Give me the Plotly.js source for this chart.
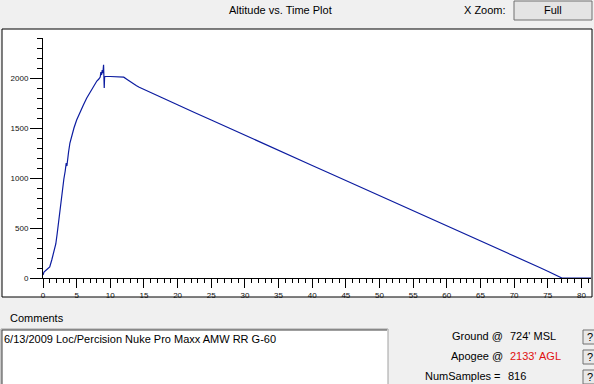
<!DOCTYPE html>
<html>
<head>
<meta charset="utf-8">
<script src="https://cdn.plot.ly/plotly-3.0.1.min.js"></script>
<style>
  html, body { margin: 0; padding: 0; background: #f0f0f0; }
  #chart { width: 594px; height: 384px; }
</style>
</head>
<body>
<div id="chart"></div>
<script>
// ---- data ----
const timeSec = [
  0.0, 0.15, 0.4, 0.7, 1.0, 1.3, 1.6, 1.9, 2.1, 2.3, 2.5, 2.7, 2.9, 3.1, 3.3, 3.45, 3.55, 3.65, 3.8, 4.0,
  4.3, 4.6, 5.0, 5.5, 6.0, 6.5, 7.0, 7.5, 8.0, 8.3, 8.5, 8.6, 8.7, 8.8, 8.9, 9.0, 9.05, 9.1, 9.15, 9.3,
  10.0, 11.0, 11.6, 12.0, 12.5, 13.0, 13.9, 14.3, 15.0, 17.5, 20.0, 22.5, 25.0, 27.5, 30.0, 32.5, 35.0, 37.5,
  40.0, 42.5, 45.0, 47.5, 50.0, 52.5, 55.0, 57.5, 60.0, 62.5, 65.0, 67.5, 70.0, 72.5, 73.8, 75.0, 77.1, 81.43
];
const altitudeFt = [
  30, 60, 75, 95, 110, 180, 250, 340, 440, 560, 680, 800, 900, 990, 1070, 1150, 1120, 1160, 1260, 1350,
  1430, 1500, 1580, 1660, 1730, 1800, 1860, 1920, 1970, 1990, 2010, 2060, 2030, 2080, 2050, 2133, 2060, 1900, 2010, 2015,
  2015, 2010, 2003, 2008, 1985, 1960, 1923, 1907, 1885, 1810, 1732, 1655, 1580, 1503, 1427, 1350, 1273, 1200,
  1125, 1050, 975, 900, 826, 750, 676, 600, 525, 450, 376, 300, 225, 146, 105, 67, 0, 0
];
const xTickStep = 5;
const yTickStep = 500;
const titleText = "Altitude vs. Time Plot";
const commentText = "6/13/2009 Loc/Percision Nuke Pro Maxx AMW RR G-60";
const groundText = "724' MSL";
const apogeeText = "2133' AGL";
const samplesText = "816";

// ---- layout helpers (pixel -> paper) ----
const L = 43, R = 591, T = 38, B = 278;
const px = x => (x - L) / (R - L);
const py = y => (B - y) / (B - T);
const FONT = "Liberation Sans, Arial, sans-serif";

function rect(x0, y0, x1, y1, fill, line, lw) {
  return { type: 'rect', xref: 'paper', yref: 'paper', layer: 'below',
    x0: px(x0), x1: px(x1), y0: py(y1), y1: py(y0),
    fillcolor: fill, line: { color: line, width: lw === undefined ? 1 : lw } };
}
function lineShape(x0, y0, x1, y1, color) {
  return { type: 'line', xref: 'paper', yref: 'paper', layer: 'below',
    x0: px(x0), x1: px(x1), y0: py(y0), y1: py(y1), line: { color: color, width: 1 } };
}
function label(text, x, y, anchor, color, size) {
  return { text: text, xref: 'paper', yref: 'paper', x: px(x), y: py(y),
    xanchor: anchor, yanchor: 'middle', showarrow: false, borderpad: 0,
    font: { family: FONT, size: size || 11, color: color || '#000' } };
}

const trace = {
  x: timeSec, y: altitudeFt, type: 'scatter', mode: 'lines',
  line: { color: '#0c1ca0', width: 1.2 }, cliponaxis: false, hoverinfo: 'skip'
};

const layout = {
  width: 594, height: 384,
  margin: { l: L, r: 594 - R, t: T, b: 384 - B, pad: 0 },
  paper_bgcolor: '#f0f0f0', plot_bgcolor: 'rgba(0,0,0,0)',
  showlegend: false,
  xaxis: {
    range: [0, (R - L) / 6.73], tickmode: 'linear', tick0: 0, dtick: xTickStep,
    ticks: 'outside', ticklen: 9, tickcolor: '#000', tickwidth: 1,
    showline: true, linecolor: '#000', linewidth: 1, showgrid: false, zeroline: false,
    tickfont: { family: FONT, size: 8, color: '#111' },
    minor: { dtick: 1, tick0: 0, ticks: 'outside', ticklen: 4, tickcolor: '#000', showgrid: false },
    fixedrange: true
  },
  yaxis: {
    range: [0, 2400], tickmode: 'linear', tick0: 0, dtick: yTickStep,
    ticks: 'outside', ticklen: 12, tickcolor: '#000', tickwidth: 1,
    showline: true, linecolor: '#000', linewidth: 1, showgrid: false, zeroline: false,
    tickfont: { family: FONT, size: 8, color: '#111' },
    minor: { dtick: 100, tick0: 0, ticks: 'outside', ticklen: 5, tickcolor: '#000', showgrid: false },
    fixedrange: true
  },
  shapes: [
    rect(2, 29, 592, 297, '#ffffff', '#000000', 1),
    rect(514, 1, 592, 20, '#e4e4e4', '#707070', 1),
    rect(1, 329, 388, 392, '#ffffff', '#a0a0a0', 1),
    lineShape(2, 330, 387, 330, '#404040'),
    lineShape(2, 330, 2, 392, '#404040'),
    rect(583, 330, 600, 344, '#e8e8e8', '#707070', 1),
    rect(583, 350, 600, 364, '#e8e8e8', '#707070', 1),
    rect(583, 370, 600, 384, '#e8e8e8', '#707070', 1)
  ],
  annotations: [
    label(titleText, 280, 10, 'center'),
    label('X Zoom:', 463, 10, 'left'),
    label('Full', 553, 10, 'center'),
    label('Comments', 9, 318, 'left'),
    label(commentText, 3, 339, 'left'),
    label('Ground @', 504, 336, 'right'),
    label(groundText, 509, 336, 'left'),
    label('Apogee @', 504, 356, 'right'),
    label(apogeeText, 509, 356, 'left', '#e01010'),
    label('NumSamples =', 502, 376, 'right'),
    label(samplesText, 507, 376, 'left'),
    label('?', 586, 337, 'left'),
    label('?', 586, 357, 'left'),
    label('?', 586, 377, 'left')
  ]
};

Plotly.newPlot('chart', [trace], layout, { staticPlot: true, displayModeBar: false });
</script>
</body>
</html>
